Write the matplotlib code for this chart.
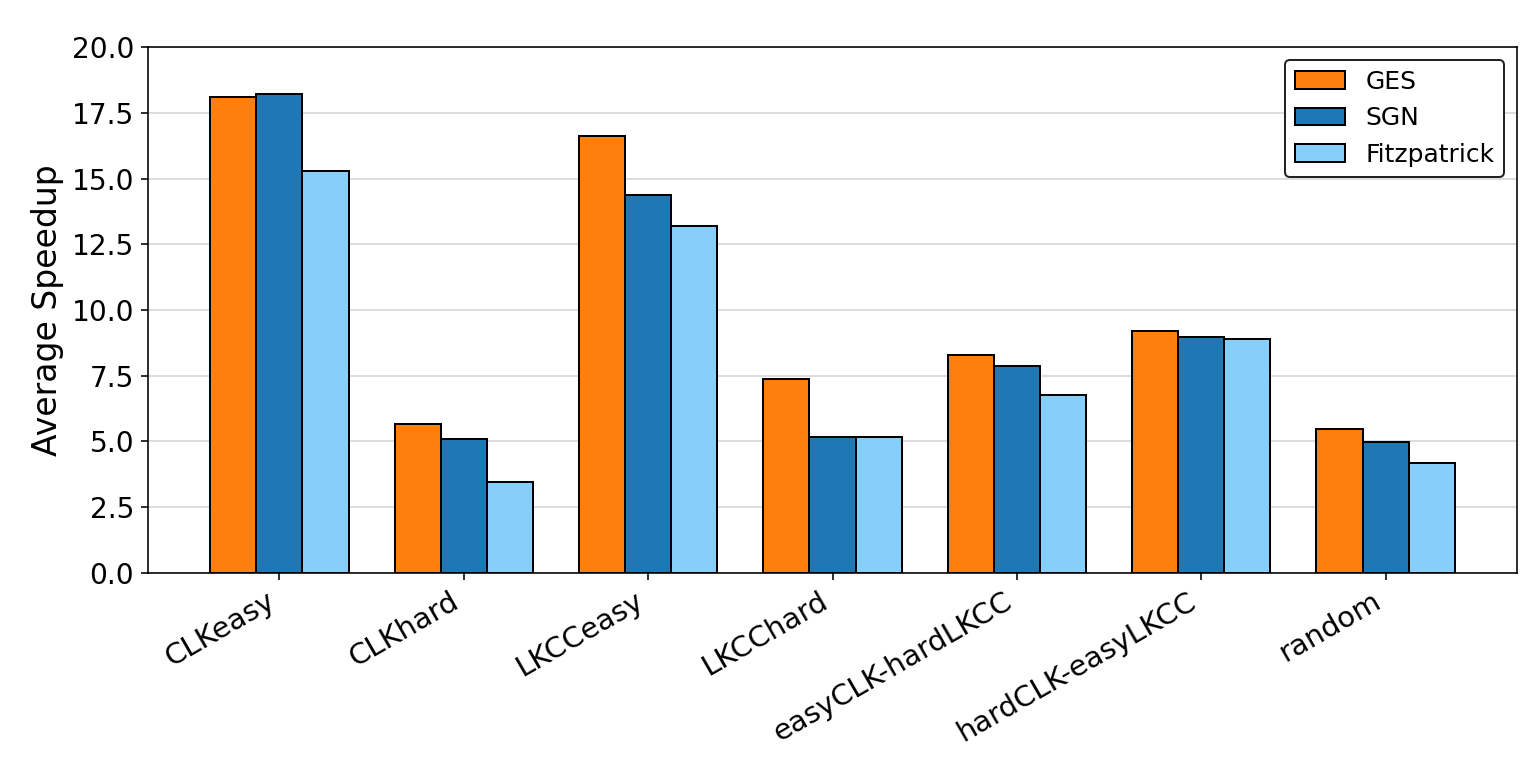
import matplotlib
matplotlib.use("Agg")
import matplotlib.pyplot as plt
import numpy as np

categories = ["CLKeasy", "CLKhard", "LKCCeasy", "LKCChard",
              "easyCLK-hardLKCC", "hardCLK-easyLKCC", "random"]
ges = [18.1, 5.67, 16.6, 7.38, 8.3, 9.2, 5.48]
sgn = [18.2, 5.1, 14.37, 5.17, 7.87, 8.98, 4.98]
fitz = [15.3, 3.47, 13.2, 5.17, 6.77, 8.91, 4.18]

series = [("GES", ges, "#ff7f0e"), ("SGN", sgn, "#1f77b4"), ("Fitzpatrick", fitz, "#87cefa")]

fig, ax = plt.subplots(figsize=(1536 / 144, 757 / 144), dpi=144)
fig.subplots_adjust(left=0.0964, right=0.9876, top=0.9379, bottom=0.2431)

x = np.arange(len(categories))
width = 0.25
for i, (name, vals, color) in enumerate(series):
    ax.bar(x + (i - 1) * width, vals, width, label=name, color=color,
           edgecolor="black", linewidth=1, zorder=3)

ax.set_ylim(0, 20)
ax.set_yticks(np.arange(0, 20.01, 2.5))
ax.set_xticks(x)
ax.set_xticklabels(categories, rotation=30, ha="right")
ax.tick_params(axis="y", labelsize=14)
ax.tick_params(axis="x", labelsize=14.5)
ax.set_ylabel("Average Speedup", fontsize=16.5)
ax.yaxis.grid(True, color="#dddddd", linewidth=1, zorder=0)
ax.set_axisbelow(True)

leg = ax.legend(loc="upper right", fontsize=12.5, framealpha=1, fancybox=True)
leg.get_frame().set_edgecolor("#222222")

fig.savefig("out.png", dpi=144)
